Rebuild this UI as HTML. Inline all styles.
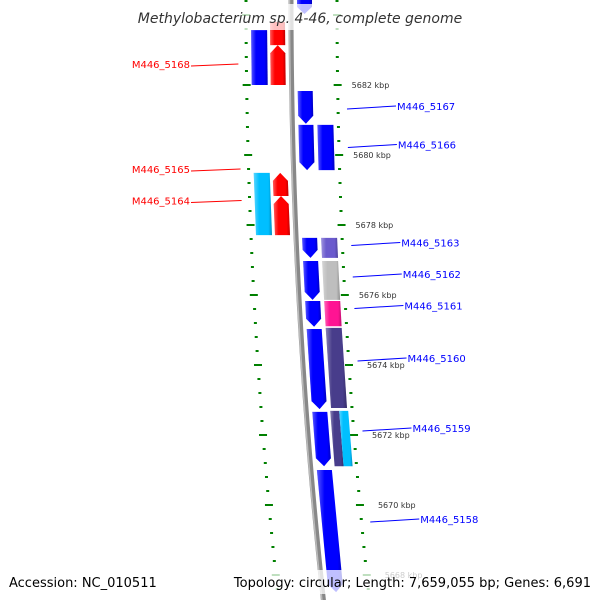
<!DOCTYPE html>
<html><head><meta charset="utf-8">
<style>
html,body{margin:0;padding:0;background:#fff;}
svg{display:block;font-family:"DejaVu Sans","Liberation Sans",sans-serif;}
</style></head>
<body>
<svg id="map" width="600" height="600" viewBox="0 0 600 600" xmlns="http://www.w3.org/2000/svg">
<defs>
<linearGradient id="shade" x1="0" x2="1" y1="0" y2="0">
<stop offset="0" stop-color="#fff" stop-opacity="0.35"/>
<stop offset="0.3" stop-color="#fff" stop-opacity="0"/>
<stop offset="0.8" stop-color="#000" stop-opacity="0"/>
<stop offset="1" stop-color="#000" stop-opacity="0.25"/>
</linearGradient>
</defs>
<g id="ticks"></g>
<g id="backbone"></g>
<g id="genes"></g>
<g id="labels"></g>
<rect x="130" y="4" width="340" height="26" fill="#fff" fill-opacity="0.75"/>
<text x="300" y="23" text-anchor="middle" font-size="14" font-style="italic" fill="#333">Methylobacterium sp. 4-46, complete genome</text>
<rect x="0" y="570" width="600" height="24" fill="#fff" fill-opacity="0.75"/>
<text x="9" y="587" font-size="13" fill="#000">Accession: NC_010511</text>
<text x="591" y="587" text-anchor="end" font-size="13" fill="#000">Topology: circular; Length: 7,659,055 bp; Genes: 6,691</text>
</svg>
<script>
// ---- data ----
const geneNames = ["top","M446_5168a","M446_5168","M446_5168r","M446_5167","M446_5166a","M446_5166b","M446_5165","M446_5165r","M446_5164","M446_5163a","M446_5163","M446_5162a","M446_5162","M446_5161a","M446_5161","M446_5160a","M446_5160","M446_5159a","M446_5159b","M446_5159","M446_5158"];
const geneStart = [5684.43,5683.80,5683.57,5683.14,5681.83,5680.86,5680.86,5679.49,5679.49,5678.83,5677.63,5677.63,5676.97,5676.97,5675.83,5675.83,5675.03,5675.06,5672.66,5672.69,5672.69,5671.00];
const geneEnd   = [5684.03,5683.14,5682.00,5682.00,5680.89,5679.57,5679.57,5677.71,5678.83,5677.71,5677.06,5677.06,5675.86,5675.86,5675.09,5675.11,5672.74,5672.77,5671.11,5671.11,5671.11,5667.51];
const geneStrand= [1,0,0,-1,1,1,0,0,-1,-1,1,0,1,0,1,0,1,0,1,0,0,1];
const geneLane  = ["R1","L2","L1","L2","R1","R1","R2","L1","L2","L2","R1","R2","R1","R2","R1","R2","R1","R2","R1","R2a","R2b","R1"];
const geneColor = ["#0000ff","#ff0000","#0000ff","#ff0000","#0000ff","#0000ff","#0000ff","#00bfff","#ff0000","#ff0000","#0000ff","#6a5acd","#0000ff","#bebebe","#0000ff","#ff1493","#0000ff","#483d8b","#0000ff","#483d8b","#00bfff","#0000ff"];
const leftLabels = ["M446_5168","M446_5165","M446_5164"];
const leftLabelKbp = [5682.6,5679.6,5678.7];
const rightLabels = ["M446_5167","M446_5166","M446_5163","M446_5162","M446_5161","M446_5160","M446_5159","M446_5158"];
const rightLabelKbp = [5681.4,5680.3,5677.5,5676.6,5675.7,5674.2,5672.2,5669.6];
const kbpTicks = [5682,5680,5678,5676,5674,5672,5670,5668];

// ---- scales ----
const pxPerKbp = 35;
function yOf(k){ return 85 + (5682 - k) * pxPerKbp; }
function off(y){ return 9e-5 * y * y; }
const laneX = {L1:[251,267],L2:[270,285],R1:[297,312],R2:[316,332],R2a:[315,324],R2b:[324,333]};
const NS="http://www.w3.org/2000/svg";
function mk(tag, attrs, parent){ const e=document.createElementNS(NS,tag); for(const k in attrs) e.setAttribute(k,attrs[k]); parent.appendChild(e); return e; }

// ticks
const tg=document.getElementById('ticks');
for(let k=5685.2;k>=5666.8;k-=0.4){
  const kk=Math.round(k*10)/10;
  const y=yOf(kk); if(y<-5||y>605) continue;
  const major=Math.abs(kk/2-Math.round(kk/2))<0.01;
  const w=major?8:3;
  [246,335].forEach((bx,i)=>{
    const cx=bx+off(y)+(i==1?2:0);
    const t=mk('rect',{x:cx-w/2,y:y-1,width:w,height:2,fill:'#008000'},tg);
    
    
  });
}
// backbone
const bg=document.getElementById('backbone');
let pts=[];for(let y=-5;y<=605;y+=10) pts.push((291+off(y))+','+y);
const bb=mk('polyline',{points:pts.join(' '),fill:'none',stroke:'#888',"stroke-width":5},bg);


let pts2=[];for(let y=-5;y<=605;y+=10) pts2.push((289.5+off(y))+','+y);
mk('polyline',{points:pts2.join(' '),fill:'none',stroke:'#bbb',"stroke-width":1.5},bg);

// genes
const gg=document.getElementById('genes');
geneNames.forEach((n,i)=>{
  const y1=yOf(geneStart[i]), y2=yOf(geneEnd[i]);
  const [a,b]=laneX[geneLane[i]]; const head=8; const s=geneStrand[i];
  let p=[];
  const P=(x,y)=>p.push((x+off(y)).toFixed(1)+','+y.toFixed(1));
  if(s===1){ const h=Math.min(head,(y2-y1)*0.5); P(a,y1);P(b,y1);P(b,y2-h);P((a+b)/2,y2);P(a,y2-h); }
  else if(s===-1){ const h=Math.min(head,(y2-y1)*0.5); P((a+b)/2,y1);P(b,y1+h);P(b,y2);P(a,y2);P(a,y1+h); }
  else { P(a,y1);P(b,y1);P(b,y2);P(a,y2); }
  const g=mk('polygon',{points:p.join(' '),fill:geneColor[i]},gg);
  
  
  mk('polygon',{points:p.join(' '),fill:'url(#shade)'},gg);
});

// labels
const lg=document.getElementById('labels');
leftLabels.forEach((n,i)=>{
  const y=yOf(leftLabelKbp[i]);
  const l=mk('line',{x1:191,y1:y+2,x2:238+off(y),y2:y,stroke:'#ff0000','stroke-width':1},lg);
  
  
  const t=mk('text',{x:190,y:y+4,'text-anchor':'end','font-size':10,fill:'#ff0000'},lg);
  t.textContent=n;
  
  
});
rightLabels.forEach((n,i)=>{
  const y=yOf(rightLabelKbp[i]);
  const x0=346+off(y);
  const l=mk('line',{x1:x0,y1:y+3,x2:x0+49,y2:y,stroke:'#0000ff','stroke-width':1},lg);
  
  
  const t=mk('text',{x:x0+50,y:y+4,'font-size':10,fill:'#0000ff'},lg);
  t.textContent=n;
  
  
});
kbpTicks.forEach((k,i)=>{
  const y=yOf(k);
  const t=mk('text',{x:351+off(y)+(y>340?4:0),y:y+3,'font-size':8,fill:'#333'},lg);
  t.textContent=k+' kbp';
  
  
});
</script>
</body></html>
